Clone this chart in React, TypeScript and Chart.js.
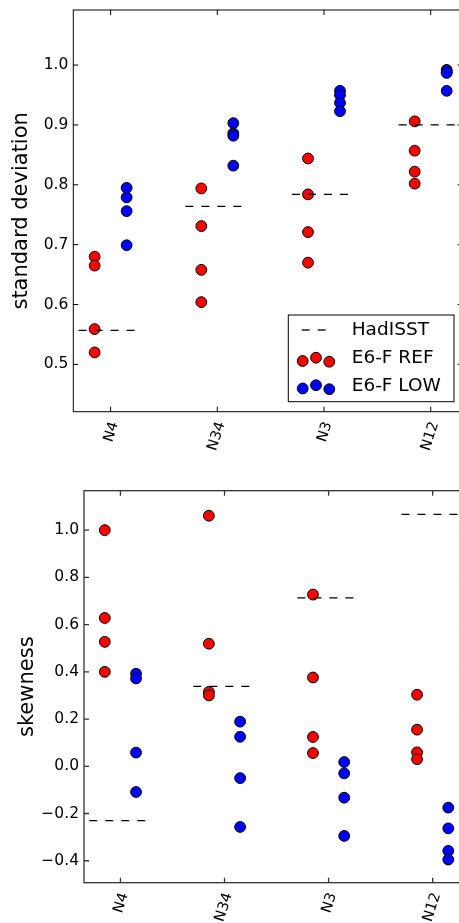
import React, { useEffect, useRef } from 'react';
import { Chart, registerables } from 'chart.js';

Chart.register(...registerables);

// ---------- data ----------
const categories = ['N4', 'N34', 'N3', 'N12'];

const stdHadISST = [0.557, 0.764, 0.784, 0.9];
const stdRef = [
  [0.68, 0.665, 0.559, 0.52],
  [0.794, 0.731, 0.658, 0.604],
  [0.844, 0.784, 0.721, 0.67],
  [0.906, 0.857, 0.822, 0.802],
];
const stdLow = [
  [0.795, 0.779, 0.756, 0.699],
  [0.903, 0.886, 0.882, 0.832],
  [0.957, 0.95, 0.937, 0.923],
  [0.992, 0.988, 0.987, 0.957],
];
const stdTicks = [0.5, 0.6, 0.7, 0.8, 0.9, 1.0];

const skewHadISST = [-0.23, 0.338, 0.713, 1.067];
const skewRef = [
  [1.0, 0.628, 0.527, 0.4],
  [1.061, 0.519, 0.315, 0.3],
  [0.727, 0.376, 0.124, 0.056],
  [0.303, 0.155, 0.059, 0.03],
];
const skewLow = [
  [0.392, 0.372, 0.058, -0.109],
  [0.189, 0.125, -0.05, -0.257],
  [0.018, -0.03, -0.133, -0.295],
  [-0.175, -0.263, -0.358, -0.395],
];
const skewTicks = [-0.4, -0.2, 0.0, 0.2, 0.4, 0.6, 0.8, 1.0];

const legendLabels = ['HadISST', 'E6-F REF', 'E6-F LOW'];

// ---------- styling ----------
const FONT = "'DejaVu Sans', 'Liberation Sans', sans-serif";
const RED = '#ff0000';
const BLUE = '#0000ff';
const OFFSET = 0.15;
const HALF = 0.3;
const R = 5.4;
const DASH = [8, 8];

function memberPoints(groups: number[][], offset: number) {
  return groups.flatMap((vals, i) => vals.map((v) => ({ x: i + offset, y: v })));
}

function refPoints(vals: number[]) {
  const pts: any[] = [];
  vals.forEach((v, i) => {
    pts.push({ x: i - HALF, y: v }, { x: i + HALF, y: v }, { x: i + 0.5, y: null });
  });
  return pts;
}

function fmt(v: number) {
  const s = Math.abs(v).toFixed(1);
  return v < -1e-9 ? '\u2212' + s : s;
}

const framePlugin = {
  id: 'frame',
  afterDatasetsDraw(chart: any, _a: any, opts: any) {
    const { ctx, chartArea } = chart;
    const { left, right, top, bottom } = chartArea;
    const xs = chart.scales.x;
    const ys = chart.scales.y;
    ctx.save();
    ctx.strokeStyle = opts.color || '#000';
    ctx.lineWidth = opts.width || 1;
    ctx.strokeRect(left, top, right - left, bottom - top);
    const L = 5;
    ctx.beginPath();
    xs.ticks.forEach((t: any) => {
      const px = xs.getPixelForValue(t.value);
      ctx.moveTo(px, bottom);
      ctx.lineTo(px, bottom - L);
      ctx.moveTo(px, top);
      ctx.lineTo(px, top + L);
    });
    ys.ticks.forEach((t: any) => {
      const py = ys.getPixelForValue(t.value);
      ctx.moveTo(left, py);
      ctx.lineTo(left + L, py);
      ctx.moveTo(right, py);
      ctx.lineTo(right - L, py);
    });
    ctx.stroke();
    ctx.restore();
  },
};

const legendPlugin = {
  id: 'refLegend',
  afterDraw(chart: any, _a: any, opts: any) {
    if (!opts || !opts.show) return;
    const { ctx, chartArea } = chart;
    const w = 165.7;
    const h = 86.7;
    const x0 = chartArea.right - 8.7 - w;
    const y0 = chartArea.bottom - 10 - h;
    ctx.save();
    ctx.fillStyle = '#fff';
    ctx.fillRect(x0, y0, w, h);
    ctx.strokeStyle = '#000';
    ctx.lineWidth = 1;
    ctx.strokeRect(x0, y0, w, h);
    // HadISST row
    ctx.setLineDash(DASH);
    ctx.lineWidth = 1.3;
    ctx.beginPath();
    ctx.moveTo(x0 + 13.4, y0 + 15);
    ctx.lineTo(x0 + 40, y0 + 15);
    ctx.stroke();
    ctx.setLineDash([]);
    const markerRow = (cy: number, color: string) => {
      const xsOff = [14.4, 27.7, 41];
      const ysOff = [2.5, -0.8, 3.2];
      xsOff.forEach((dx, k) => {
        ctx.beginPath();
        ctx.arc(x0 + dx, cy + ysOff[k], R, 0, Math.PI * 2);
        ctx.fillStyle = color;
        ctx.fill();
        ctx.lineWidth = 1;
        ctx.strokeStyle = '#000';
        ctx.stroke();
      });
    };
    markerRow(y0 + 43.5, RED);
    markerRow(y0 + 71, BLUE);
    ctx.fillStyle = '#000';
    ctx.font = `18.5px ${FONT}`;
    ctx.textBaseline = 'middle';
    ctx.textAlign = 'left';
    ctx.fillText(legendLabels[0], x0 + 63.4, y0 + 15);
    ctx.fillText(legendLabels[1], x0 + 63.4, y0 + 43.5);
    ctx.fillText(legendLabels[2], x0 + 63.4, y0 + 71);
    ctx.restore();
  },
};

interface PanelProps {
  width: number;
  height: number;
  had: number[];
  ref: number[][];
  low: number[][];
  yTicks: number[];
  yMin: number;
  yMax: number;
  yTitle: string;
  area: { left: number; top: number; right: number; bottom: number };
  titlePad: number;
  showLegend: boolean;
  frameColor: string;
  frameWidth: number;
}

function Panel(p: PanelProps) {
  const ref = useRef<HTMLCanvasElement | null>(null);
  useEffect(() => {
    if (!ref.current) return;
    const chart = new Chart(ref.current, {
      type: 'scatter',
      data: {
        datasets: [
          {
            label: legendLabels[0],
            data: refPoints(p.had),
            showLine: true,
            spanGaps: false,
            borderColor: '#000',
            borderWidth: 1.3,
            borderDash: DASH,
            pointRadius: 0,
            pointHoverRadius: 0,
            fill: false,
          } as any,
          {
            label: legendLabels[2],
            data: memberPoints(p.low, OFFSET),
            backgroundColor: BLUE,
            borderColor: '#000',
            borderWidth: 1,
            pointRadius: R,
            pointHoverRadius: R,
          },
          {
            label: legendLabels[1],
            data: memberPoints(p.ref, -OFFSET),
            backgroundColor: RED,
            borderColor: '#000',
            borderWidth: 1,
            pointRadius: R,
            pointHoverRadius: R,
          },
        ],
      },
      options: {
        animation: false,
        responsive: false,
        maintainAspectRatio: false,
        events: [],
        layout: {
          padding: {
            left: 0,
            top: p.area.top,
            right: p.width - p.area.right,
            bottom: 0,
          },
        },
        plugins: {
          legend: { display: false },
          tooltip: { enabled: false },
          frame: { color: p.frameColor, width: p.frameWidth },
          refLegend: { show: p.showLegend },
        } as any,
        scales: {
          x: {
            type: 'linear',
            min: -0.35,
            max: 3.3,
            afterBuildTicks: (s: any) => {
              s.ticks = categories.map((_, i) => ({ value: i }));
            },
            afterFit: (s: any) => {
              s.height = p.height - p.area.bottom;
              s.paddingLeft = 0;
              s.paddingRight = 0;
            },
            grid: { display: false, drawTicks: false },
            border: { display: false },
            ticks: {
              autoSkip: false,
              minRotation: 72,
              maxRotation: 72,
              padding: 8,
              labelOffset: 4,
              color: '#000',
              font: { family: FONT, size: 14.5 },
              callback: (v: any) => categories[Math.round(Number(v))] ?? '',
            },
          },
          y: {
            type: 'linear',
            min: p.yMin,
            max: p.yMax,
            afterBuildTicks: (s: any) => {
              s.ticks = p.yTicks.map((v) => ({ value: v }));
            },
            afterFit: (s: any) => {
              s.width = p.area.left;
              s.paddingTop = 0;
              s.paddingBottom = 0;
            },
            grid: { display: false, drawTicks: false },
            border: { display: false },
            ticks: {
              padding: 5,
              color: '#000',
              font: { family: FONT, size: 15.5 },
              callback: (v: any) => fmt(Number(v)),
            },
            title: {
              display: true,
              text: p.yTitle,
              color: '#000',
              font: { family: FONT, size: 21 },
              padding: { top: p.titlePad, bottom: 0 },
            },
          },
        },
      },
      plugins: [framePlugin, legendPlugin],
    });
    return () => chart.destroy();
  }, []);
  return (
    <canvas
      ref={ref}
      width={p.width}
      height={p.height}
      style={{ display: 'block', width: p.width, height: p.height }}
    />
  );
}

export default function App() {
  return (
    <div
      style={{
        position: 'absolute',
        left: 0,
        top: 0,
        width: 459,
        height: 923,
        overflow: 'hidden',
        background: '#fff',
      }}
    >
      <Panel
        width={475}
        height={470}
        had={stdHadISST}
        ref={stdRef}
        low={stdLow}
        yTicks={stdTicks}
        yMin={0.421}
        yMax={1.092}
        yTitle="standard deviation"
        area={{ left: 73.3, top: 10, right: 462.7, bottom: 411.7 }}
        titlePad={9.4}
        showLegend={true}
        frameColor="#000"
        frameWidth={1}
      />
      <Panel
        width={475}
        height={453}
        had={skewHadISST}
        ref={skewRef}
        low={skewLow}
        yTicks={skewTicks}
        yMin={-0.493}
        yMax={1.167}
        yTitle="skewness"
        area={{ left: 84, top: 20.7, right: 463.9, bottom: 412.7 }}
        titlePad={15.3}
        showLegend={false}
        frameColor="#333"
        frameWidth={1.3}
      />
    </div>
  );
}
